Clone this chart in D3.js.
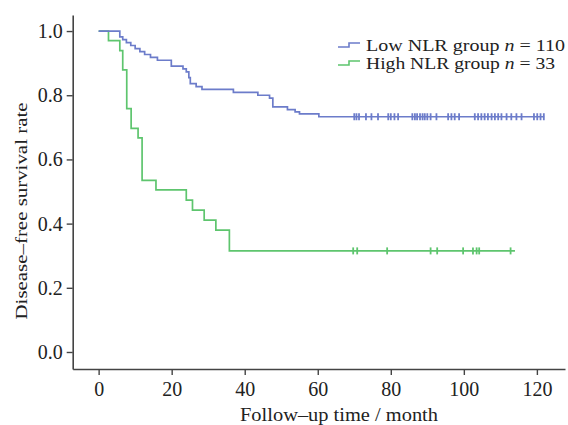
<!DOCTYPE html>
<html>
<head>
<meta charset="utf-8">
<script src="https://cdn.jsdelivr.net/npm/d3@7"></script>
<style>
  body { margin: 0; background: #fff; }
  svg { font-family: "Liberation Serif", "Times New Roman", serif; }
</style>
</head>
<body>
<script>

// Kaplan-Meier steps (time in months, survival after step)
const lowTimes = [0, 5.8, 6.6, 7.6, 8.8, 10, 11.3, 12.6, 14.2, 16.1, 19.9, 23.1, 24, 24.7, 25.1, 26.7, 28.3, 36.9, 43.6, 46.8, 47.7, 51.7, 53.8, 55, 60.3];
const lowSurv  = [1, 0.982, 0.973, 0.964, 0.955, 0.945, 0.936, 0.927, 0.918, 0.909, 0.891, 0.882, 0.873, 0.855, 0.836, 0.827, 0.818, 0.809, 0.800, 0.791, 0.764, 0.755, 0.748, 0.742, 0.733];
const lowEnd = 122;
const lowCensor = [70, 70.6, 71.3, 73.2, 74.7, 76.5, 79.3, 80, 81, 82, 85.9, 86.6, 87.2, 88, 88.7, 89.3, 90, 90.9, 92.5,
                   95.7, 96.6, 97.5, 98.7, 103, 103.9, 104.8, 105.7, 106.6, 107.6, 108.5, 109.4, 110.3, 111.7, 113,
                   114.4, 115.8, 119.2, 120.1, 121, 121.9];

const highTimes = [0, 2.7, 5.8, 6.6, 7.7, 8.9, 10.8, 11.9, 15.7, 24, 25.7, 28.9, 32.1, 35.8];
const highSurv  = [1, 0.970, 0.939, 0.879, 0.758, 0.697, 0.667, 0.535, 0.505, 0.473, 0.442, 0.411, 0.380, 0.315];
const highEnd = 114;
const highCensor = [69.7, 70.8, 79, 90.9, 92.7, 99.8, 102.5, 103.5, 104.2, 112.8];

const xTicks = [0, 20, 40, 60, 80, 100, 120];
const yTicks = [0, 0.2, 0.4, 0.6, 0.8, 1.0];
const legendLabels = [["Low NLR group ", "n", " = 110"], ["High NLR group ", "n", " = 33"]];

const blue = "#6c7cca";
const green = "#5ec56e";

const width = 568, height = 425;

const svg = d3.select("body").append("svg")
    .attr("width", width)
    .attr("height", height);

// Scales (axis lines run a little past the data range, like the original)
const x = d3.scaleLinear().domain([-7.1, 127.7]).range([72.7, 565]);
const y = d3.scaleLinear().domain([-0.053, 1.05]).range([369, 15]);

// Axes
const xAxis = svg.append("g")
    .attr("transform", `translate(0,${y(-0.053)})`)
    .call(d3.axisBottom(x).tickValues(xTicks).tickSize(6).tickSizeOuter(0).tickPadding(7)
        .tickFormat(d3.format("d")));
const yAxis = svg.append("g")
    .attr("transform", `translate(${x(-7.1)},0)`)
    .call(d3.axisLeft(y).tickValues(yTicks).tickSize(6).tickSizeOuter(0).tickPadding(4)
        .tickFormat(d3.format(".1f")));

[xAxis, yAxis].forEach(g => {
    g.select(".domain").attr("stroke", "#444").attr("stroke-width", 1.6);
    g.selectAll(".tick line").attr("stroke", "#444").attr("stroke-width", 1.4);
    g.selectAll(".tick text")
        .attr("fill", "#222")
        .style("font-family", "'Liberation Serif', serif")
        .style("font-size", "20px");
});

// Axis titles
svg.append("text")
    .attr("x", 339).attr("y", 421)
    .attr("text-anchor", "middle")
    .attr("font-size", 18)
    .attr("fill", "#222")
    .attr("textLength", 198)
    .attr("lengthAdjust", "spacingAndGlyphs")
    .text("Follow–up time / month");

svg.append("text")
    .attr("transform", "translate(27,211) rotate(-90)")
    .attr("text-anchor", "middle")
    .attr("font-size", 17)
    .attr("fill", "#222")
    .attr("textLength", 217)
    .attr("lengthAdjust", "spacingAndGlyphs")
    .text("Disease–free survival rate");

// Step line generator
const line = d3.line()
    .x(d => x(d[0]))
    .y(d => y(d[1]))
    .curve(d3.curveStepAfter);

function drawGroup(times, surv, end, censor, color) {
    const pts = times.map((t, i) => [t, surv[i]]);
    pts.push([end, surv[surv.length - 1]]);
    svg.append("path")
        .attr("d", line(pts))
        .attr("fill", "none")
        .attr("stroke", color)
        .attr("stroke-width", 1.7);

    // Censor marks sit on the final plateau
    const last = surv[surv.length - 1];
    svg.append("g")
        .selectAll("line")
        .data(censor)
        .enter()
        .append("line")
        .attr("x1", d => x(d)).attr("x2", d => x(d))
        .attr("y1", y(last) - 3.5).attr("y2", y(last) + 3.5)
        .attr("stroke", color)
        .attr("stroke-width", 1.8);
}

drawGroup(highTimes, highSurv, highEnd, highCensor, green);
drawGroup(lowTimes, lowSurv, lowEnd, lowCensor, blue);

// Legend
const legendColors = [blue, green];
const legendY = [51, 69];
const legendLen = [199, 189];
legendLabels.forEach((parts, i) => {
    const ly = legendY[i] - 6;
    svg.append("path")
        .attr("d", `M338,${ly + 2}H349V${ly - 2}H360`)
        .attr("fill", "none")
        .attr("stroke", legendColors[i])
        .attr("stroke-width", 1.6);
    const t = svg.append("text")
        .attr("x", 366).attr("y", legendY[i])
        .attr("font-size", 17)
        .attr("fill", "#222")
        .attr("textLength", legendLen[i])
        .attr("lengthAdjust", "spacingAndGlyphs");
    t.append("tspan").text(parts[0]);
    t.append("tspan").attr("font-style", "italic").text(parts[1]);
    t.append("tspan").text(parts[2]);
});

</script>
</body>
</html>
